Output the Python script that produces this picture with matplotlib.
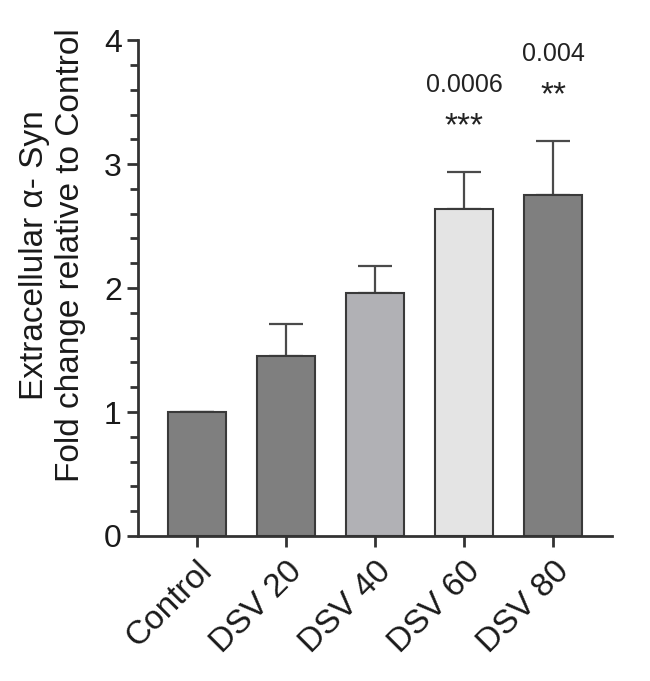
import matplotlib.pyplot as plt
import numpy as np

plt.rcParams['font.family'] = ['Liberation Sans', 'DejaVu Sans']

groups = ['Control', 'DSV 20', 'DSV 40', 'DSV 60', 'DSV 80']
means = [1.0, 1.45, 1.96, 2.64, 2.75]
errs = [0.0, 0.26, 0.22, 0.30, 0.44]
colors = ['#7f7f7f', '#7f7f7f', '#b1b1b5', '#e4e4e4', '#7f7f7f']
pvals = ['', '', '', '0.0006', '0.004']
stars = ['', '', '', '***', '**']

fig = plt.figure(figsize=(6.5, 6.81), dpi=100)
ax = fig.add_axes([0.212, 0.213, 0.730, 0.728])

x = np.arange(len(groups))
ax.bar(x, means, width=0.65, color=colors, edgecolor='#3a3a3a', linewidth=1.5, zorder=2)
ax.errorbar(x, means, yerr=[np.zeros(len(errs)), errs], fmt='none', ecolor='#4a4a4a',
            elinewidth=1.6, capsize=12, capthick=1.6, zorder=1)

for i in range(len(groups)):
    if pvals[i]:
        top = means[i] + errs[i]
        ax.text(x[i], top + 0.36, stars[i], ha='center', va='center', fontsize=24, color='#222222')
        ax.text(x[i], top + 0.70, pvals[i], ha='center', va='center', fontsize=18, color='#222222')

ax.set_xlim(-0.66, 4.66)
ax.set_ylim(0, 4)
ax.set_yticks([0, 1, 2, 3, 4])
ax.set_yticks(np.arange(0, 4.01, 0.2), minor=True)
ax.set_xticks(x)
ax.set_xticklabels(groups, rotation=45, ha='right', rotation_mode='anchor', fontsize=24)
ax.tick_params(axis='y', labelsize=23, length=8, width=2, color='#333333', direction='out',
               labelcolor='#1a1a1a')
ax.tick_params(axis='y', which='minor', length=6, width=2, color='#333333')
ax.tick_params(axis='x', length=8, width=2, color='#333333', direction='out', pad=6,
               labelcolor='#1a1a1a')

for s in ['top', 'right']:
    ax.spines[s].set_visible(False)
for s in ['left', 'bottom']:
    ax.spines[s].set_linewidth(2)
    ax.spines[s].set_color('#333333')

ax.set_ylabel('Extracellular α- Syn\nFold change relative to Control', fontsize=24,
              linespacing=1.2, color='#1a1a1a')
ax.yaxis.set_label_coords(-0.11, 0.567)

fig.savefig('out.png', dpi=100)
